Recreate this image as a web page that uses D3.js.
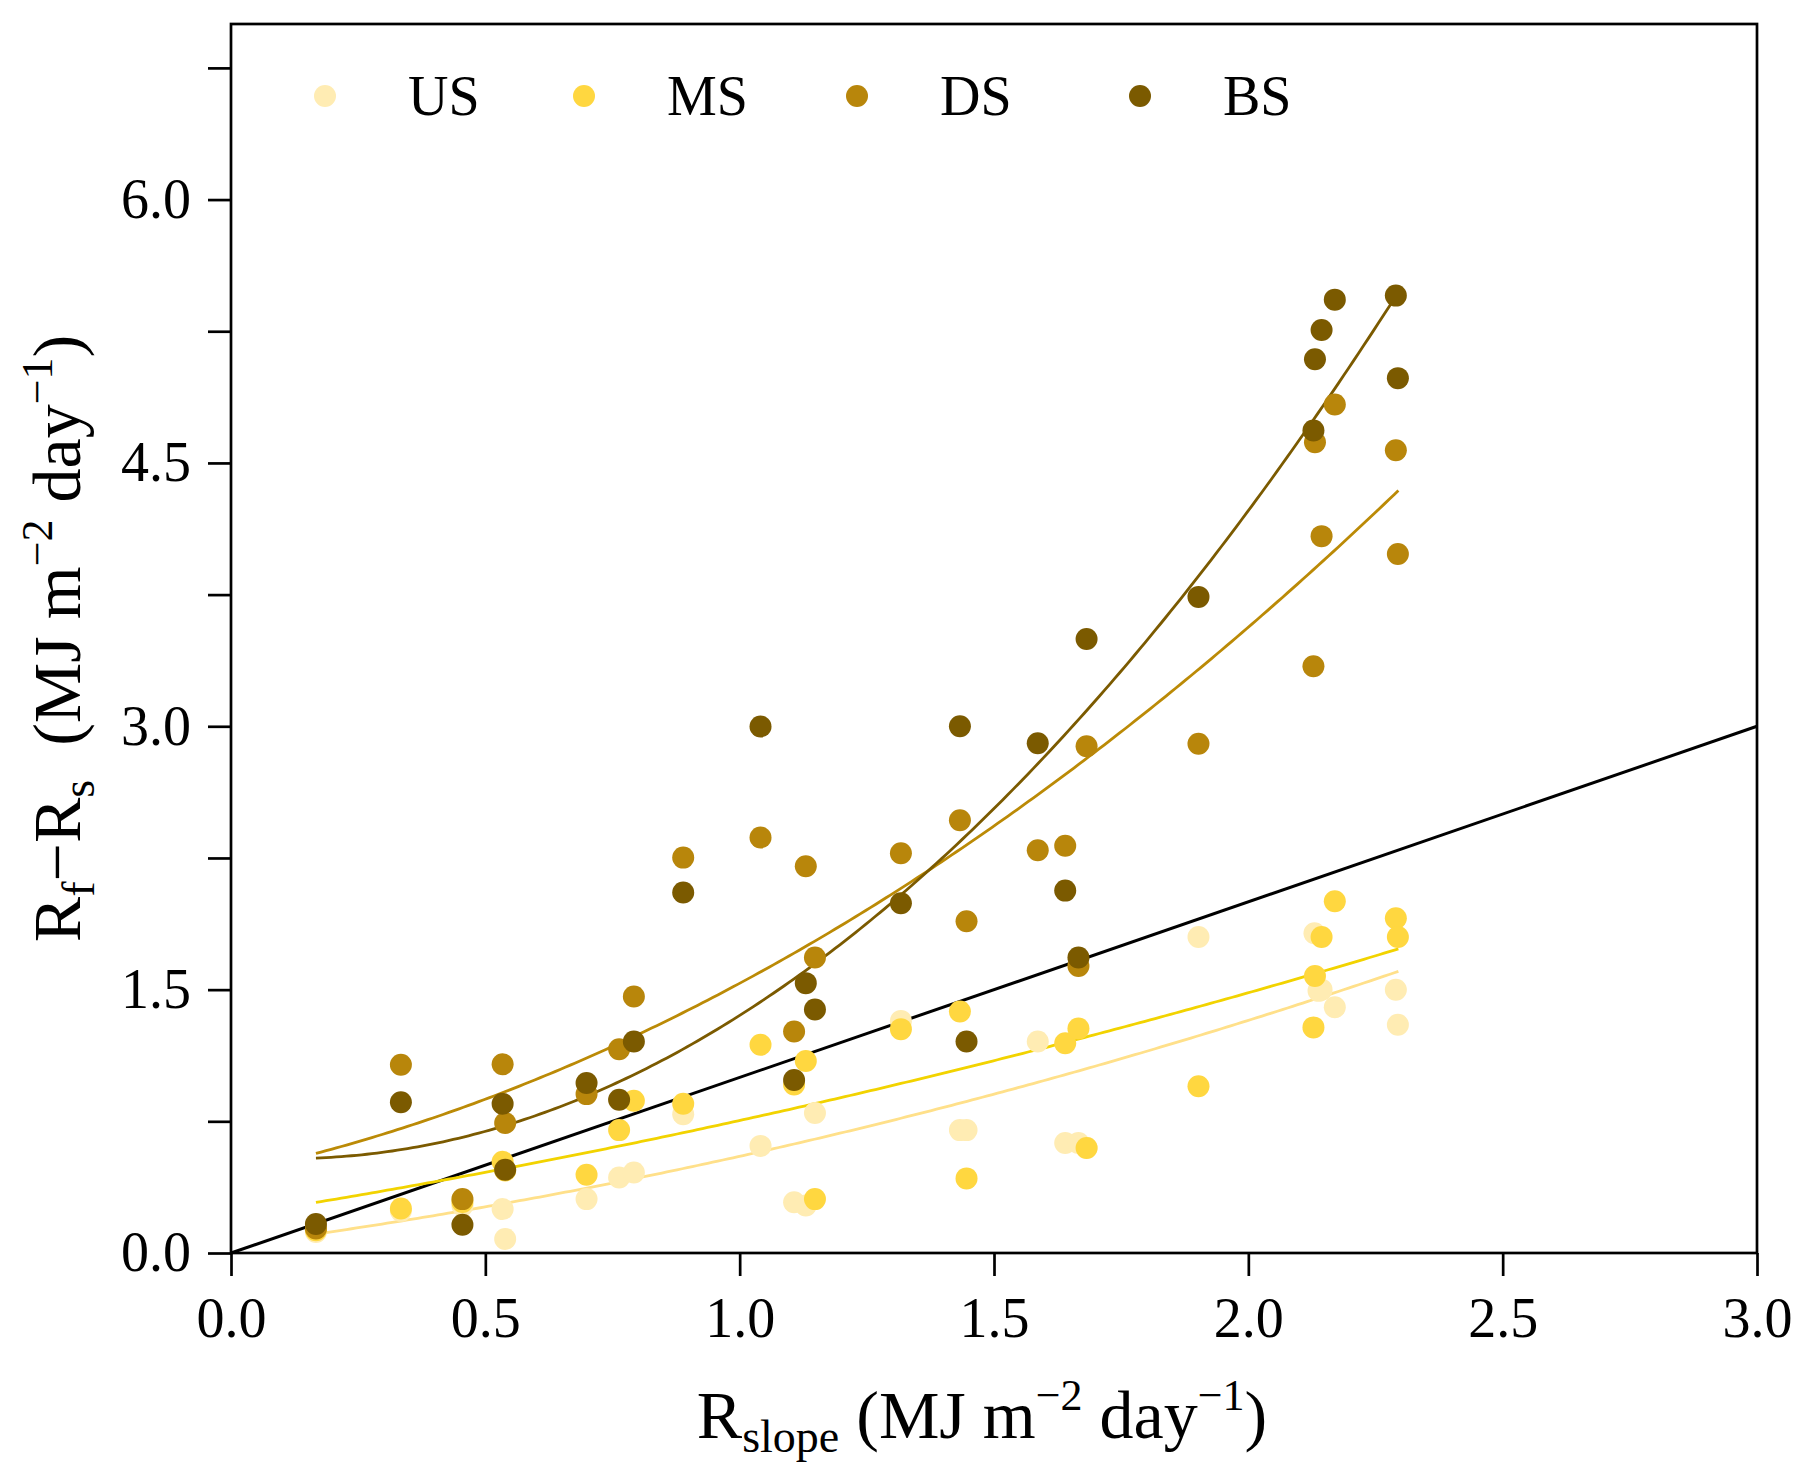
<!DOCTYPE html>
<html>
<head>
<meta charset="utf-8">
<script src="https://cdn.jsdelivr.net/npm/d3@7"></script>
<style>
  body { margin: 0; background: #fff; }
  svg { display: block; font-family: "Liberation Serif", "Times New Roman", serif; }
</style>
</head>
<body>
<svg id="chart"></svg>
<script>
// R_slope vs Rf-Rs scatter, four series with quadratic fits + 1:1 line

const seriesNames = ["US", "MS", "DS", "BS"];

// [R_slope, Rf-Rs]
const usPoints = [[0.167,0.12],[0.334,0.24],[0.455,0.27],[0.534,0.25],[0.539,0.08],[0.699,0.307],[0.763,0.43],[0.792,0.459],[0.889,0.79],[1.041,0.61],[1.107,0.289],[1.130,0.27],[1.148,0.797],[1.317,1.322],[1.433,0.70],[1.446,0.70],[1.586,1.205],[1.640,0.626],[1.666,0.626],[1.682,0.60],[1.902,1.80],[2.130,1.821],[2.138,1.493],[2.144,1.50],[2.170,1.40],[2.290,1.499],[2.294,1.30]];
const msPoints = [[0.167,0.13],[0.334,0.254],[0.455,0.29],[0.534,0.52],[0.539,0.47],[0.699,0.446],[0.763,0.70],[0.792,0.867],[0.889,0.85],[1.041,1.186],[1.107,0.96],[1.130,1.094],[1.148,0.307],[1.317,1.275],[1.433,1.375],[1.446,0.425],[1.640,1.195],[1.666,1.279],[1.682,0.598],[1.902,0.95],[2.128,1.285],[2.131,1.578],[2.144,1.80],[2.170,2.003],[2.290,1.907],[2.294,1.80]];
const dsPoints = [[0.167,0.14],[0.334,1.072],[0.455,0.307],[0.534,1.075],[0.539,0.74],[0.699,0.905],[0.763,1.161],[0.792,1.461],[0.889,2.252],[1.041,2.367],[1.107,1.262],[1.130,2.203],[1.148,1.683],[1.317,2.277],[1.433,2.465],[1.446,1.89],[1.586,2.294],[1.640,2.32],[1.666,1.635],[1.682,2.886],[1.902,2.90],[2.128,3.342],[2.131,4.618],[2.144,4.083],[2.170,4.833],[2.290,4.572],[2.294,3.981]];
const bsPoints = [[0.167,0.165],[0.334,0.859],[0.455,0.161],[0.534,0.85],[0.539,0.474],[0.699,0.968],[0.763,0.873],[0.792,1.205],[0.889,2.053],[1.041,2.999],[1.107,0.985],[1.130,1.537],[1.148,1.387],[1.317,1.992],[1.433,3.0],[1.446,1.205],[1.586,2.903],[1.640,2.064],[1.666,1.683],[1.682,3.497],[1.902,3.737],[2.128,4.685],[2.131,5.09],[2.144,5.257],[2.170,5.43],[2.290,5.453],[2.294,4.983]];

// quadratic fit coefficients [a, b, c] : y = a + b x + c x^2 (estimated from the drawn curves)
const usFit = [0.0414, 0.3768, 0.1325];
const msFit = [0.2097, 0.4536, 0.09135];
const dsFit = [0.4515, 0.6128, 0.4718];
const bsFit = [0.5513, -0.2351, 1.0368];
const fitRange = [0.167, 2.295];

const xTicks = [0, 0.5, 1.0, 1.5, 2.0, 2.5, 3.0];
const yTicks = [0, 0.75, 1.5, 2.25, 3.0, 3.75, 4.5, 5.25, 6.0, 6.75];

const pointColors = ["#FFECB3", "#FFD740", "#B8860B", "#7B5A00"];
const lineColors  = ["#FFE08A", "#F2D300", "#BB8A06", "#7B5A00"];

const W = 1816, H = 1480;
const margin = { top: 24, right: 59, bottom: 227, left: 231 };

const svg = d3.select("#chart").attr("width", W).attr("height", H);

const x = d3.scaleLinear().domain([0, 3]).range([margin.left, W - margin.right]);
const y = d3.scaleLinear().domain([0, 7]).range([H - margin.bottom, margin.top]);

const series = seriesNames.map((name, i) => ({
  name,
  points: [usPoints, msPoints, dsPoints, bsPoints][i],
  fit: [usFit, msFit, dsFit, bsFit][i],
  fill: pointColors[i],
  stroke: lineColors[i]
}));

// axes
const xAxis = d3.axisBottom(x).tickValues(xTicks).tickSize(23).tickPadding(21)
    .tickFormat(d3.format(".1f"));
const yAxis = d3.axisLeft(y).tickValues(yTicks).tickSize(23).tickPadding(17)
    .tickFormat(d => (Math.round(d * 100) % 150 === 0) ? d.toFixed(1) : "");

const gx = svg.append("g")
    .attr("transform", `translate(0,${H - margin.bottom})`)
    .call(xAxis);
const gy = svg.append("g")
    .attr("transform", `translate(${margin.left},0)`)
    .call(yAxis);

[gx, gy].forEach(g => {
  g.select(".domain").remove();
  g.selectAll(".tick line").attr("stroke", "#000").attr("stroke-width", 2.7);
  g.selectAll(".tick text")
    .attr("fill", "#000")
    .style("font-family", "'Liberation Serif', 'Times New Roman', serif")
    .style("font-size", "56px");
});

// frame
svg.append("rect")
    .attr("x", x(0)).attr("y", y(7))
    .attr("width", x(3) - x(0)).attr("height", y(0) - y(7))
    .attr("fill", "none").attr("stroke", "#000").attr("stroke-width", 2.7);

// 1:1 line
svg.append("line")
    .attr("x1", x(0)).attr("y1", y(0))
    .attr("x2", x(3)).attr("y2", y(3))
    .attr("stroke", "#000").attr("stroke-width", 3);

// fit curves
const line = d3.line().x(d => x(d[0])).y(d => y(d[1]));
const xs = d3.range(fitRange[0], fitRange[1], 0.01).concat([fitRange[1]]);

svg.append("g")
    .attr("fill", "none")
    .selectAll("path")
    .data(series)
    .join("path")
    .attr("stroke", d => d.stroke)
    .attr("stroke-width", 2.8)
    .attr("d", d => line(xs.map(v => [v, d.fit[0] + d.fit[1] * v + d.fit[2] * v * v])));

// points (US first, BS on top)
series.forEach(s => {
  svg.append("g")
    .selectAll("circle")
    .data(s.points)
    .join("circle")
    .attr("cx", d => x(d[0]))
    .attr("cy", d => y(d[1]))
    .attr("r", 11)
    .attr("fill", s.fill);
});

// legend
const legendMarkX = [325, 584, 857, 1140];
const legend = svg.append("g");
series.forEach((s, i) => {
  legend.append("circle")
    .attr("cx", legendMarkX[i]).attr("cy", 96).attr("r", 11)
    .attr("fill", s.fill);
  legend.append("text")
    .attr("x", legendMarkX[i] + 83).attr("y", 115)
    .style("font-size", "56px")
    .text(s.name);
});

// x axis title
const xt = svg.append("text")
    .attr("x", 982).attr("y", 1438)
    .attr("text-anchor", "middle")
    .style("font-size", "68px");
xt.append("tspan").text("R");
xt.append("tspan").attr("dy", 14).style("font-size", "46px").text("slope");
xt.append("tspan").attr("dy", -14).text(" (MJ m");
xt.append("tspan").attr("dy", -28).style("font-size", "44px").text("\u22122");
xt.append("tspan").attr("dy", 28).text(" day");
xt.append("tspan").attr("dy", -28).style("font-size", "44px").text("\u22121");
xt.append("tspan").attr("dy", 28).text(")");

// y axis title
const yt = svg.append("text")
    .attr("transform", `translate(80,${(y(0) + y(7)) / 2}) rotate(-90)`)
    .attr("text-anchor", "middle")
    .style("font-size", "68px");
yt.append("tspan").text("R");
yt.append("tspan").attr("dy", 14).style("font-size", "46px").text("f");
yt.append("tspan").attr("dy", -14).text("\u2212R");
yt.append("tspan").attr("dy", 14).style("font-size", "46px").text("s");
yt.append("tspan").attr("dy", -14).text("\u00a0\u00a0(MJ m");
yt.append("tspan").attr("dy", -28).style("font-size", "44px").text("\u22122");
yt.append("tspan").attr("dy", 28).text(" day");
yt.append("tspan").attr("dy", -28).style("font-size", "44px").text("\u22121");
yt.append("tspan").attr("dy", 28).text(")");
</script>
</body>
</html>
